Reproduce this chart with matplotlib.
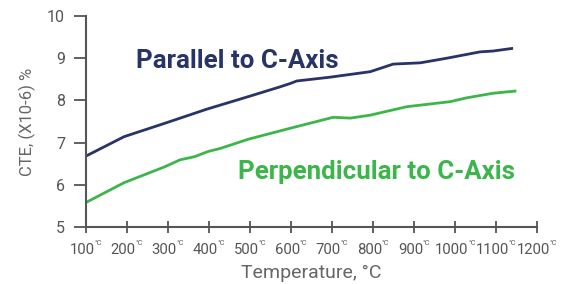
import matplotlib.pyplot as plt

plt.rcParams['font.family'] = ['Roboto', 'DejaVu Sans']

# CTE data
temp_par = [100, 193, 293, 394, 496, 573, 598, 614, 695, 793, 849, 915, 980, 1061, 1093, 1138]
cte_par = [6.68, 7.14, 7.46, 7.79, 8.09, 8.32, 8.40, 8.46, 8.55, 8.68, 8.86, 8.89, 9.00, 9.15, 9.17, 9.23]

temp_perp = [100, 193, 293, 329, 366, 398, 427, 496, 598, 703, 744, 793, 882, 988, 1028, 1093, 1146]
cte_perp = [5.58, 6.05, 6.43, 6.59, 6.67, 6.79, 6.86, 7.08, 7.34, 7.60, 7.58, 7.65, 7.85, 7.97, 8.06, 8.17, 8.22]

x_ticks = list(range(100, 1300, 100))
y_ticks = [5, 6, 7, 8, 9, 10]

navy = '#283367'
green = '#3cb54a'
grey = '#555555'
dpi = 100

fig = plt.figure(figsize=(5.69, 2.84), dpi=dpi)
ax = fig.add_axes([0.151, 0.2007, 0.793, 0.743])

ax.plot(temp_par, cte_par, color=navy, linewidth=2)
ax.plot(temp_perp, cte_perp, color=green, linewidth=2)

ax.set_xlim(100, 1200)
ax.set_ylim(5, 10)
ax.set_xticks(x_ticks)
ax.set_xticklabels([])
ax.set_yticks(y_ticks)

for s in ['top', 'right']:
    ax.spines[s].set_visible(False)
for s in ['left', 'bottom']:
    ax.spines[s].set_color(grey)
    ax.spines[s].set_linewidth(1.5)

ax.tick_params(axis='x', direction='inout', length=9, width=1.3, color=grey)
ax.tick_params(axis='y', direction='out', length=9, width=1.3, color=grey,
               labelsize=11.5, labelcolor='#555555', pad=6)

# tick labels with small superscript °C
num_y, sup_y = -11.5, -9.6
labels = []
for t in x_ticks:
    num = ax.annotate(str(t), xy=(t, 0), xycoords=('data', 'axes fraction'),
                      xytext=(0, num_y), textcoords='offset points',
                      ha='left', va='top', fontsize=10.7, color='#555555')
    sup = ax.annotate('°C', xy=(t, 0), xycoords=('data', 'axes fraction'),
                      xytext=(0, sup_y), textcoords='offset points',
                      ha='left', va='top', fontsize=5.3, color='#555555')
    labels.append((num, sup))

fig.canvas.draw()
r = fig.canvas.get_renderer()
for num, sup in labels:
    wn = num.get_window_extent(r).width
    ws = sup.get_window_extent(r).width
    left = -(wn + ws) / 2
    num.xyann = (left * 72 / dpi, num_y)
    sup.xyann = ((left + wn) * 72 / dpi, sup_y)

ax.set_xlabel('Temperature, °C', fontsize=14, color='#666666', labelpad=18.5)
ax.set_ylabel('CTE, (X10-6) %', fontsize=12, color='#666666', labelpad=8)

ax.text(222, 8.93, 'Parallel to C-Axis', color=navy, fontsize=18.6,
        fontweight='bold', va='center', ha='left')
ax.text(471, 6.30, 'Perpendicular to C-Axis', color=green, fontsize=18.6,
        fontweight='bold', va='center', ha='left')

fig.savefig('out.png', dpi=dpi)
